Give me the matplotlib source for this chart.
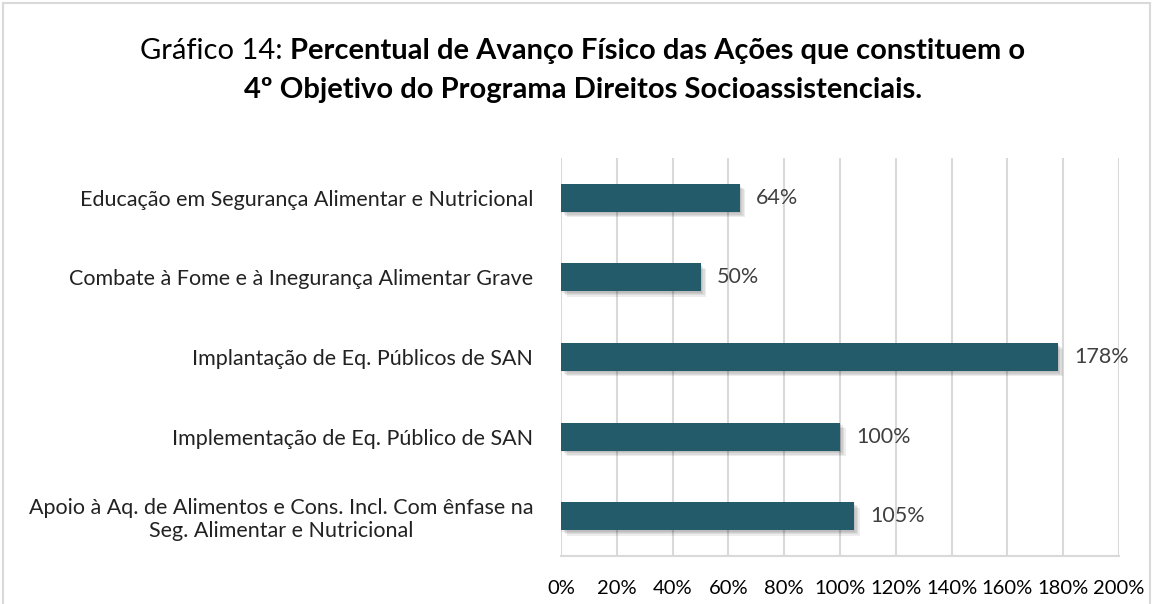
import matplotlib.pyplot as plt
import matplotlib.patheffects as pe
from matplotlib.patches import Rectangle

plt.rcParams['font.family'] = ['Lato', 'DejaVu Sans']

acoes = [
    'Apoio à Aq. de Alimentos e Cons. Incl. Com ênfase na\nSeg. Alimentar e Nutricional',
    'Implementação de Eq. Público de SAN',
    'Implantação de Eq. Públicos de SAN',
    'Combate à Fome e à Inegurança Alimentar Grave',
    'Educação em Segurança Alimentar e Nutricional',
]
avanco = [105, 100, 178, 50, 64]
ticks = [0, 20, 40, 60, 80, 100, 120, 140, 160, 180, 200]

W, H = 1153, 604
fig = plt.figure(figsize=(W / 100, H / 100), dpi=100)
ax = fig.add_axes([561 / W, 1 - 556 / H, (1119 - 561) / W, (556 - 158) / H])

# soft shadow: a few offset layers
shadow = [pe.SimplePatchShadow(offset=(d, -d), shadow_rgbFace='#000000', alpha=0.07) for d in (1, 2, 3, 4)]
bars = ax.barh(range(len(acoes)), avanco, height=0.35, color='#235B6B', zorder=3)
for b in bars:
    b.set_path_effects(shadow + [pe.Normal()])

for i, v in enumerate(avanco):
    ax.text(v + 6, i, f'{v}%', va='center', ha='left', fontsize=15.5, color='#404040')

ax.set_xlim(0, 200)
ax.set_ylim(-0.5, len(acoes) - 0.5)
ax.set_xticks(ticks)
ax.set_xticklabels([f'{t}%' for t in ticks], fontsize=14.5)
ax.set_yticks(range(len(acoes)))
ax.set_yticklabels(acoes, fontsize=15.5, color='#222222', multialignment='center')
ax.tick_params(axis='x', length=0, pad=17)
ax.tick_params(axis='y', length=0, pad=20)
ax.grid(axis='x', color='#d9d9d9', lw=1.5, zorder=0)
for s in ['top', 'right', 'left']:
    ax.spines[s].set_visible(False)
ax.spines['bottom'].set_color('#d9d9d9')
ax.spines['bottom'].set_linewidth(1.5)

# title: first line mixes regular and bold, centred as a whole
y1 = 1 - 51 / H
t1 = fig.text(0, y1, 'Gráfico 14: ', ha='left', va='center', fontsize=21)
t2 = fig.text(0, y1, 'Percentual de Avanço Físico das Ações que constituem o',
              ha='left', va='center', fontsize=21, fontweight='bold')
fig.canvas.draw()
w1 = t1.get_window_extent().width
w2 = t2.get_window_extent().width
x0 = 583 - (w1 + w2) / 2
t1.set_x(x0 / W)
t2.set_x((x0 + w1) / W)
fig.text(583 / W, 1 - 90 / H, '4º Objetivo do Programa Direitos Socioassistenciais.',
         ha='center', va='center', fontsize=21, fontweight='bold')

fig.patches.append(Rectangle((3 / W, -0.1), 1147 / W, 1 - 3 / H + 0.1, transform=fig.transFigure,
                             fill=False, edgecolor='#d9d9d9', lw=1.5))

fig.savefig('out.png', dpi=100)
